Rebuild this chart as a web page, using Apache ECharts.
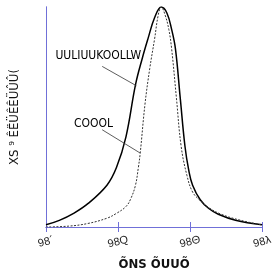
<!DOCTYPE html>
<html><head><meta charset="utf-8">
<script src="https://cdn.jsdelivr.net/npm/echarts@6/dist/echarts.min.js"></script>
<style>html,body{margin:0;padding:0;background:#fff}#c{width:275px;height:276px}</style>
</head><body><div id="c"></div>
<script>
var xTickLabels = ['98´', '98Q', '98Θ', '98λ'];
var xTitle = 'ÕNS ÕUUÕ';
var yTitle = 'XS ⁹ ÊËÜÊÊÜÛÛ(';
var label1 = 'UULIUUKOOLLW';
var label2 = 'COOOL';
var solidX = [0,0.185,0.383,0.581,0.846,0.978,1.11,1.242,1.335,1.414,1.507,1.6,1.678,1.744,1.797,1.863,1.929,1.982,2.035,2.141,2.26,2.392,2.63,3.0];
var solidY = [0.01,0.03,0.062,0.106,0.19,0.27,0.41,0.646,0.765,0.854,0.951,1.0,0.973,0.898,0.81,0.588,0.367,0.257,0.19,0.124,0.084,0.058,0.031,0.01];
var dashX = [0,0.317,0.581,0.846,0.978,1.110,1.176,1.242,1.282,1.308,1.374,1.44,1.507,1.559,1.6,1.652,1.705,1.744,1.81,1.876,1.956,2.035,2.141,2.26,2.432,2.696,3.0];
var dashY = [0,0.004,0.016,0.040,0.062,0.093,0.128,0.19,0.27,0.336,0.558,0.72,0.854,0.965,1.0,0.965,0.898,0.81,0.588,0.367,0.235,0.159,0.12,0.088,0.058,0.031,0.009];
var arrow1 = [[0.78,0.73],[1.255,0.642]];
var arrow2 = [[0.78,0.442],[1.308,0.336]];
var label1Pos = [0.727,0.779];
var label2Pos = [0.66,0.469];

function zip(a,b){return a.map(function(v,i){return [v,b[i]];});}
var blue = '#7070d8';
var font = 'Liberation Serif';
var narrow = '"Liberation Sans Narrow","DejaVu Sans Condensed",sans-serif';
var chart = echarts.init(document.getElementById('c'), null, {renderer:'canvas'});
chart.setOption({
  animation:false,
  grid:{left:36,right:12,top:7,bottom:43,containLabel:false},
  xAxis:[{
    type:'value',min:0,max:3,interval:1,position:'bottom',
    axisLine:{lineStyle:{color:blue,width:1}},
    axisTick:{inside:true,length:5,lineStyle:{color:blue}},
    splitLine:{show:false},
    axisLabel:{rotate:15,margin:15,align:'center',verticalAlign:'middle',color:'#222',fontFamily:'Liberation Sans',fontSize:11,
      formatter:function(v){return xTickLabels[Math.round(v)];}},
    name:xTitle,nameLocation:'middle',nameGap:31,
    nameTextStyle:{color:'#111',fontFamily:narrow,fontSize:13,fontWeight:'bold'}
  },{
    type:'value',min:0,max:3,interval:1,position:'top',
    axisLine:{lineStyle:{color:blue,width:1}},
    axisTick:{inside:true,length:5,lineStyle:{color:blue}},
    axisLabel:{show:false},splitLine:{show:false}
  }],
  yAxis:[{
    type:'value',min:0,max:1,position:'left',
    axisLine:{show:true,lineStyle:{color:blue,width:1}},
    axisTick:{show:false},axisLabel:{show:false},splitLine:{show:false},
    name:yTitle,nameLocation:'middle',nameGap:25,nameRotate:90,
    nameTextStyle:{color:'#111',fontFamily:narrow,fontSize:13}
  },{
    type:'value',min:0,max:1,position:'right',
    axisLine:{show:true,lineStyle:{color:blue,width:1}},
    axisTick:{show:false},axisLabel:{show:false},splitLine:{show:false}
  }],
  series:[{
    type:'line',data:zip(solidX,solidY),smooth:0.4,showSymbol:false,
    lineStyle:{color:'#000',width:1.5},
    markLine:{silent:true,symbol:['none','arrow'],symbolSize:[0,6],
      lineStyle:{color:'#333',width:0.8,type:'solid'},label:{show:false},
      data:[[{coord:arrow1[0]},{coord:arrow1[1]}],[{coord:arrow2[0]},{coord:arrow2[1]}]]},
    markPoint:{silent:true,symbol:'circle',symbolSize:0,
      label:{show:true,position:'inside',color:'#000',fontFamily:narrow,fontSize:12,
        formatter:function(p){return p.name;}},
      data:[{name:label1,coord:label1Pos},{name:label2,coord:label2Pos}]}
  },{
    type:'line',data:zip(dashX,dashY),smooth:0.4,showSymbol:false,
    lineStyle:{color:'#333',width:1,type:[2,1.5]}
  }]
});
</script></body></html>
